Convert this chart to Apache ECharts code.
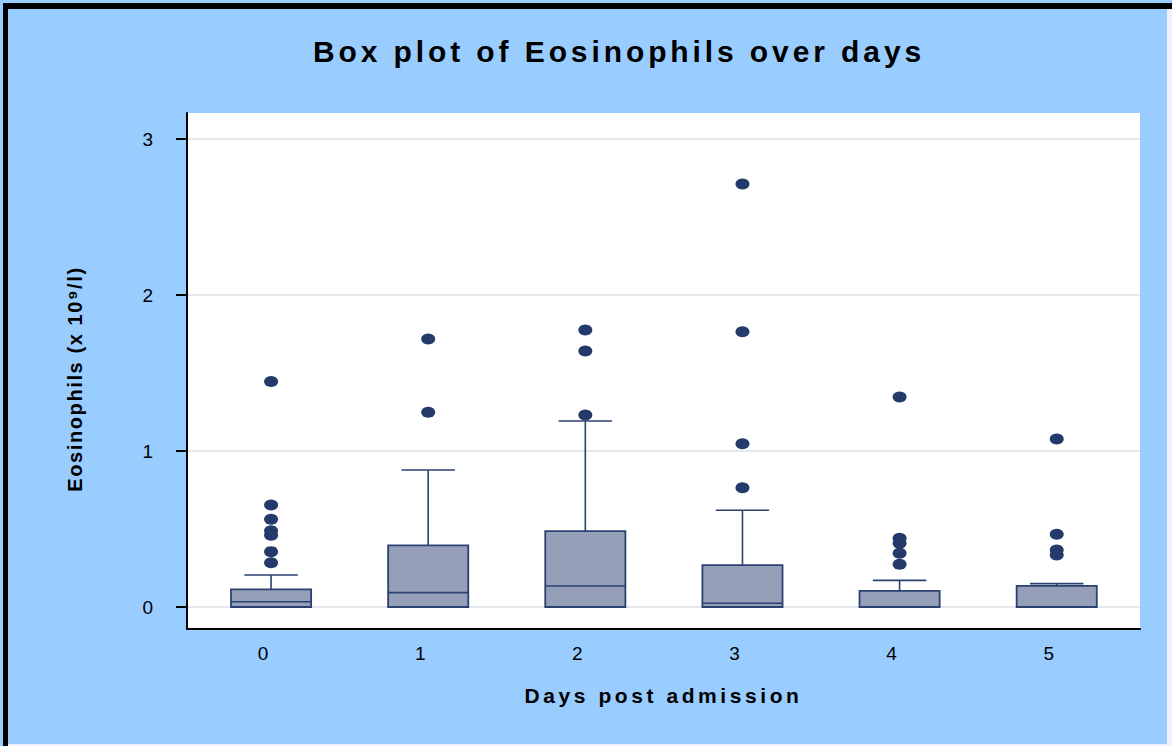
<!DOCTYPE html>
<html>
<head>
<meta charset="utf-8">
<script src="https://cdn.jsdelivr.net/npm/echarts@6/dist/echarts.min.js"></script>
<style>
  html, body { margin: 0; padding: 0; background: #ffffff; }
  #chart { width: 1172px; height: 746px; }
  /* wide tracking on the bold title and axis names */
  #chart text[style*="bold"][style*="30px"] { letter-spacing: 0.13em; }
  #chart text[style*="bold"][style*="21px"] { letter-spacing: 0.17em; }
  #chart text[style*="bold"][style*="20px"] { letter-spacing: 0.08em; }
</style>
</head>
<body>
<div id="chart"></div>
<script>
// Days post admission (x positions of the boxes)
const days = [0, 1, 2, 3, 4, 5];
// Box statistics per day (x 10^9/l)
const lowerWhisker = [0, 0, 0, 0, 0, 0];
const lowerQuartile = [0, 0, 0, 0, 0, 0];
const medians = [0.034, 0.092, 0.135, 0.024, 0.0, 0.0];
const upperQuartile = [0.113, 0.395, 0.487, 0.269, 0.103, 0.135];
const upperWhisker = [0.205, 0.878, 1.192, 0.620, 0.171, 0.150];
// Outlying observations per day
const outliers = [
  [1.446, 0.654, 0.562, 0.489, 0.460, 0.355, 0.284],
  [1.718, 1.248],
  [1.776, 1.641, 1.231],
  [2.712, 1.765, 1.047, 0.765],
  [1.346, 0.440, 0.408, 0.344, 0.274],
  [1.077, 0.466, 0.365, 0.333]
];
const yTicks = [0, 1, 2, 3];

const FONT = 'Liberation Sans, Arial, sans-serif';
const NAVY = '#2a4172';
const BOX_FILL = '#95a0b8';

const boxData = days.map((d, i) => [d, lowerQuartile[i], medians[i], upperQuartile[i], upperWhisker[i], lowerWhisker[i]]);
const outlierData = [];
days.forEach((d, i) => outliers[i].forEach(v => outlierData.push([d, v])));

const chart = echarts.init(document.getElementById('chart'), null, { renderer: 'svg' });

chart.setOption({
  backgroundColor: '#99ccff',
  animation: false,
  title: {
    text: 'Box plot of Eosinophils over days',
    left: 614,
    top: 31,
    textAlign: 'center',
    textStyle: { fontFamily: FONT, fontSize: 30, fontWeight: 'bold', color: '#000' }
  },
  graphic: [
    // dark frame on the top and left edges
    { type: 'rect', shape: { x: 3, y: 3, width: 1169, height: 6 }, style: { fill: '#000' }, z: 100 },
    { type: 'rect', shape: { x: 3, y: 3, width: 5, height: 743 }, style: { fill: '#000' }, z: 100 },
    { type: 'rect', shape: { x: 1167, y: 9, width: 5, height: 737 }, style: { fill: '#eef2fa' }, z: 100 },
    { type: 'rect', shape: { x: 8, y: 744, width: 1159, height: 2 }, style: { fill: '#eef2fa' }, z: 100 }
  ],
  grid: {
    left: 187, right: 32, top: 113, bottom: 117,
    show: true, backgroundColor: '#ffffff', borderWidth: 0
  },
  xAxis: {
    type: 'value',
    min: -0.535,
    max: 5.53,
    name: 'Days post admission',
    nameLocation: 'middle',
    nameGap: 56,
    nameTextStyle: { fontFamily: FONT, fontSize: 21, fontWeight: 'bold', color: '#000' },
    axisLine: { show: true, onZero: false, lineStyle: { color: '#000', width: 2 } },
    axisTick: { show: false, customValues: days },
    axisLabel: { customValues: days, fontFamily: FONT, fontSize: 19, color: '#000', margin: 15, padding: [0, 16, 0, 0] },
    splitLine: { show: false }
  },
  yAxis: {
    type: 'value',
    min: -0.141,
    max: 3.167,
    name: 'Eosinophils (x 10⁹/l)',
    nameLocation: 'middle',
    nameGap: 102,
    nameRotate: 90,
    nameTextStyle: { fontFamily: FONT, fontSize: 20, fontWeight: 'bold', color: '#000', padding: [0, 16, 0, 0] },
    axisLine: { show: true, onZero: false, lineStyle: { color: '#000', width: 2 } },
    axisTick: { show: true, customValues: yTicks, length: 11, lineStyle: { color: '#000', width: 2 } },
    axisLabel: { customValues: yTicks, fontFamily: FONT, fontSize: 19, color: '#000', margin: 34 },
    splitLine: { show: true, lineStyle: { color: '#e4e7ee', width: 2 } }
  },
  series: [
    {
      type: 'custom',
      data: boxData,
      encode: { x: 0, y: [1, 2, 3, 4, 5] },
      renderItem: function (params, api) {
        const x = api.value(0);
        const halfBox = 0.255;
        const halfCap = 0.17;
        const q1 = api.value(1), med = api.value(2), q3 = api.value(3), hi = api.value(4);
        const bl = api.coord([x - halfBox, q1]);
        const tr = api.coord([x + halfBox, q3]);
        const mL = api.coord([x - halfBox, med]);
        const mR = api.coord([x + halfBox, med]);
        const stemTop = api.coord([x, hi]);
        const stemBot = api.coord([x, q3]);
        const cL = api.coord([x - halfCap, hi]);
        const cR = api.coord([x + halfCap, hi]);
        const lineStyle = { stroke: NAVY, lineWidth: 1.6, fill: null };
        return {
          type: 'group',
          children: [
            { type: 'line', shape: { x1: stemBot[0], y1: stemBot[1], x2: stemTop[0], y2: stemTop[1] }, style: lineStyle },
            { type: 'line', shape: { x1: cL[0], y1: cL[1], x2: cR[0], y2: cR[1] }, style: lineStyle },
            { type: 'rect', shape: { x: bl[0], y: tr[1], width: tr[0] - bl[0], height: bl[1] - tr[1] },
              style: { fill: BOX_FILL, stroke: NAVY, lineWidth: 1.8 } },
            { type: 'line', shape: { x1: mL[0], y1: mL[1], x2: mR[0], y2: mR[1] }, style: lineStyle }
          ]
        };
      },
      z: 3
    },
    {
      type: 'scatter',
      data: outlierData,
      symbol: 'circle',
      symbolSize: [14, 11],
      itemStyle: { color: '#233a6b', opacity: 1 },
      z: 4
    }
  ]
});
</script>
</body>
</html>
